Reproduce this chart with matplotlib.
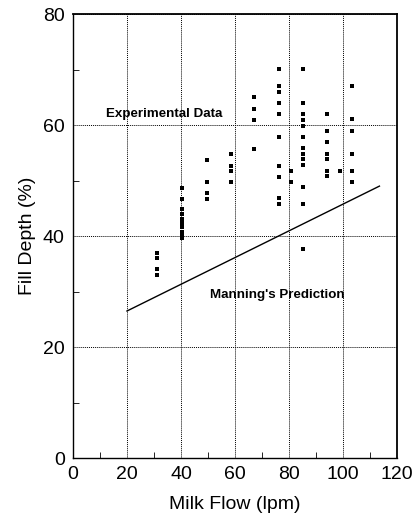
import matplotlib
matplotlib.use("Agg")
import matplotlib.pyplot as plt
from matplotlib.ticker import MultipleLocator

plt.rcParams['font.family'] = ['Liberation Sans', 'DejaVu Sans']

# Experimental data: milk flow (lpm) and fill depth (%)
flow_31 = [31] * 4
depth_31 = [37, 36, 34, 33]
flow_40 = [40.5] * 10
depth_40 = [48.7, 46.6, 44.8, 43.9, 43.1, 42.4, 41.6, 40.8, 40.2, 39.6]
flow_49 = [49.5] * 4
depth_49 = [53.7, 49.7, 47.7, 46.7]
flow_58 = [58.5] * 4
depth_58 = [54.7, 52.7, 51.7, 49.7]
flow_67 = [67.2] * 4
depth_67 = [65.0, 62.9, 60.9, 55.7]
flow_76 = [76.3] * 10
depth_76 = [70.1, 67.0, 65.9, 64.0, 61.9, 57.8, 52.7, 50.7, 46.8, 45.8]
flow_81 = [80.7] * 2
depth_81 = [51.7, 49.7]
flow_85 = [85.3] * 13
depth_85 = [70.1, 64.0, 61.9, 60.9, 59.9, 57.9, 55.8, 54.8, 53.8, 52.8, 48.8, 45.8, 37.7]
flow_94 = [94.2] * 7
depth_94 = [62.0, 58.9, 56.9, 54.8, 53.8, 51.7, 50.8]
flow_99 = [98.8]
depth_99 = [51.8]
flow_103 = [103.2] * 6
depth_103 = [67.1, 61.0, 58.9, 54.8, 51.8, 49.8]

flows = flow_31 + flow_40 + flow_49 + flow_58 + flow_67 + flow_76 + flow_81 + flow_85 + flow_94 + flow_99 + flow_103
depths = depth_31 + depth_40 + depth_49 + depth_58 + depth_67 + depth_76 + depth_81 + depth_85 + depth_94 + depth_99 + depth_103

# Manning's prediction line
manning_flow = [20, 113.5]
manning_depth = [26.5, 49.0]

fig = plt.figure(figsize=(4.17, 5.29), dpi=100)
ax = fig.add_axes([0.175, 0.134, 0.777, 0.8395])

ax.plot(flows, depths, linestyle='none', marker='s', markersize=3.0,
        color='black', markeredgewidth=0)
ax.plot(manning_flow, manning_depth, color='black', linewidth=1.0)

ax.set_xlim(0, 120)
ax.set_ylim(0, 80)
ax.xaxis.set_major_locator(MultipleLocator(20))
ax.xaxis.set_minor_locator(MultipleLocator(10))
ax.yaxis.set_major_locator(MultipleLocator(20))
ax.yaxis.set_minor_locator(MultipleLocator(10))
ax.tick_params(which='both', direction='in', top=False, right=False,
               labelsize=14, color='black')
ax.tick_params(which='major', length=0, pad=6)
ax.tick_params(which='minor', length=4)
ax.grid(True, which='major', linestyle=(0, (1, 1)), color='black', linewidth=0.7)

for side in ['left', 'bottom']:
    ax.spines[side].set_linewidth(1.0)
for side in ['right', 'top']:
    ax.spines[side].set_linewidth(1.3)

ax.set_xlabel('Milk Flow (lpm)', fontsize=14, labelpad=9)
ax.set_ylabel('Fill Depth (%)', fontsize=14, labelpad=5)

ax.text(33.7, 62.0, 'Experimental Data', fontsize=9.6, fontweight='bold',
        ha='center', va='center')
ax.text(75.6, 29.4, "Manning's Prediction", fontsize=9.6, fontweight='bold',
        ha='center', va='center')

fig.savefig('out.png', dpi=100, facecolor='white')
